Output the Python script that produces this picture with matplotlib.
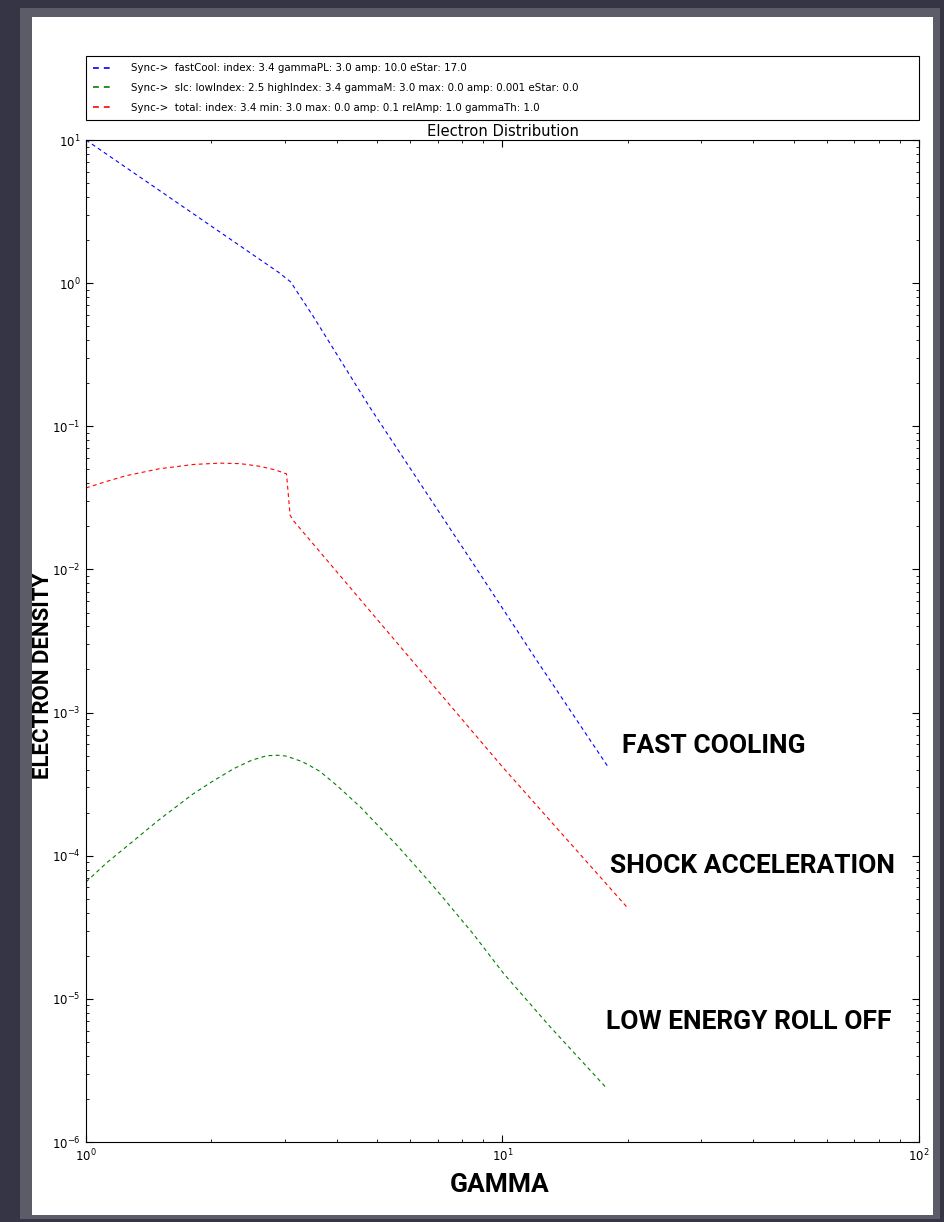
import numpy as np
import matplotlib.pyplot as plt
from matplotlib.patches import Rectangle

# values (log-log axes)
fast_gamma = [1.0, 2.0, 2.9, 3.1, 3.5, 4.8, 8.4, 12.1, 18.0]
fast_n = [10.0, 2.5, 1.19, 1.02, 0.595, 0.136, 0.0116, 0.0023, 4.1e-4]

slc_gamma = [1.0, 1.12, 1.25, 1.5, 1.81, 2.0, 2.26, 2.5, 2.72, 2.9, 3.03, 3.3, 3.45,
             3.65, 4.0, 4.55, 5.0, 5.57, 6.2, 6.95, 8.5, 10.05, 13.0, 17.8]
slc_n = [6.55e-5, 8.9e-5, 1.156e-4, 1.79e-4, 2.71e-4, 3.27e-4, 4.05e-4, 4.65e-4,
         5.0e-4, 5.03e-4, 4.96e-4, 4.55e-4, 4.25e-4, 3.87e-4, 3.1e-4, 2.2e-4,
         1.65e-4, 1.19e-4, 8.4e-5, 5.75e-5, 2.85e-5, 1.51e-5, 6.4e-6, 2.37e-6]

total_gamma = [1.0, 1.12, 1.25, 1.5, 1.81, 2.1, 2.35, 2.62, 2.85, 3.03, 3.09, 3.14,
               5.77, 10.0, 20.0]
total_n = [0.0371, 0.0412, 0.0452, 0.0505, 0.0541, 0.0553, 0.0548, 0.0525, 0.0495,
           0.0465, 0.024, 0.0221, 2.74e-3, 4.17e-4, 4.3e-5]

labels = ['Sync->  fastCool: index: 3.4 gammaPL: 3.0 amp: 10.0 eStar: 17.0',
          'Sync->  slc: lowIndex: 2.5 highIndex: 3.4 gammaM: 3.0 max: 0.0 amp: 0.001 eStar: 0.0',
          'Sync->  total: index: 3.4 min: 3.0 max: 0.0 amp: 0.1 relAmp: 1.0 gammaTh: 1.0']

W, H = 945, 1222
fig = plt.figure(figsize=(W / 100, H / 100), dpi=100, facecolor='#363546')

# page with grey rim, kept behind the axes
fig.patches.append(Rectangle((20 / W, 3 / H), 920 / W, 1211 / H, transform=fig.transFigure,
                             facecolor='#5c5b68', edgecolor='none', zorder=-2))
fig.patches.append(Rectangle((32 / W, 7 / H), 901 / W, 1198 / H, transform=fig.transFigure,
                             facecolor='white', edgecolor='none', zorder=-1))

ax = fig.add_axes([86 / W, 1 - 1142 / H, 833 / W, 1002 / H], zorder=1)
dash = (3.5, 3)
ax.plot(fast_gamma, fast_n, color='b', lw=0.8, dashes=dash, label=labels[0])
ax.plot(slc_gamma, slc_n, color='g', lw=0.8, dashes=dash, label=labels[1])
ax.plot(total_gamma, total_n, color='r', lw=0.8, dashes=dash, label=labels[2])

ax.set_xscale('log')
ax.set_yscale('log')
ax.set_xlim(1, 100)
ax.set_ylim(1e-6, 1e1)
ax.tick_params(which='both', direction='in', top=True, right=True, labelsize=8.5, pad=4)
ax.tick_params(which='major', length=5)
ax.tick_params(which='minor', length=2.5)
ax.set_title('Electron Distribution', fontsize=10.6, pad=3)

big = dict(family=['Roboto', 'DejaVu Sans'], fontweight='bold', fontsize=19, zorder=3)
fig.text(500 / W, 1 - 1185 / H, 'GAMMA', ha='center', va='center', **big)
fig.text(43 / W, 1 - 676 / H, 'ELECTRON DENSITY', ha='center', va='center',
         rotation=90, **dict(big, fontsize=16))
fig.text(622 / W, 1 - 746 / H, 'FAST COOLING', ha='left', va='center', **big)
fig.text(610 / W, 1 - 866 / H, 'SHOCK ACCELERATION', ha='left', va='center', **big)
fig.text(606 / W, 1 - 1022 / H, 'LOW ENERGY ROLL OFF', ha='left', va='center', **big)

leg = fig.legend(loc='lower left', bbox_to_anchor=(86 / W, 1 - 120 / H, 833 / W, 65 / H),
                 mode='expand', fontsize=7.4, handlelength=2.0, handletextpad=1.7,
                 labelspacing=0.95, borderpad=0.7, borderaxespad=0, fancybox=False,
                 framealpha=1)
leg.get_frame().set_edgecolor('black')
leg.get_frame().set_linewidth(0.8)
for h in leg.get_lines():
    h.set_linewidth(1.2)
leg.set_zorder(2)

fig.savefig('out.png', dpi=100, facecolor=fig.get_facecolor())
